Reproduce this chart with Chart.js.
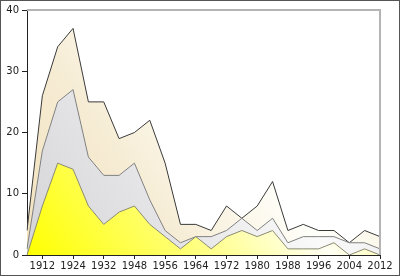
<!DOCTYPE html>
<html lang="en">
<head>
    <meta charset="UTF-8">
    <title>Medals</title>
    <script src="https://cdn.jsdelivr.net/npm/chart.js"></script>
    <style>
        body {
            margin: 0;
            padding: 0;
            background: white;
        }
        .wrap {
            position: relative;
            width: 400px;
            height: 276px;
        }
        .frame {
            position: absolute;
            left: 0;
            top: 0;
            width: 400px;
            height: 276px;
            box-sizing: border-box;
            border: 1px solid #555;
            pointer-events: none;
        }
    </style>
</head>
<body>
    <div class="wrap">
        <canvas id="medalChart" width="400" height="276"></canvas>
        <div class="frame"></div>
    </div>

    <script>
        const years = ['1908', '1912', '1920', '1924', '1928', '1932', '1936', '1948', '1952', '1956', '1960', '1964',
                       '1968', '1972', '1976', '1980', '1984', '1988', '1992', '1996', '2000', '2004', '2008', '2012'];
        const gold   = [0, 8, 15, 14, 8, 5, 7, 8, 5, 3, 1, 3, 1, 3, 4, 3, 4, 1, 1, 1, 2, 0, 1, 0];
        const silver = [1, 9, 10, 13, 8, 8, 6, 7, 4, 1, 1, 0, 2, 1, 2, 1, 2, 1, 2, 2, 1, 2, 1, 1];
        const bronze = [3, 9, 9, 10, 9, 12, 6, 5, 13, 11, 3, 2, 1, 4, 0, 4, 6, 2, 2, 1, 1, 0, 2, 2];
        const yTicks = [0, 10, 20, 30, 40];

        // horizontal gradient: strong colour at both ends, almost white in the middle
        function makeFill(edge, mid, light) {
            return function (context) {
                const chart = context.chart;
                const area = chart.chartArea;
                if (!area) return edge;
                const g = chart.ctx.createLinearGradient(area.left, area.bottom, area.right, area.top);
                g.addColorStop(0, edge);
                g.addColorStop(0.3, mid);
                g.addColorStop(0.58, light);
                g.addColorStop(0.85, mid);
                g.addColorStop(1, edge);
                return g;
            };
        }

        const frameLines = {
            id: 'frameLines',
            afterDraw(chart) {
                const { ctx, chartArea } = chart;
                ctx.save();
                ctx.strokeStyle = '#b4b4b4';
                ctx.lineWidth = 2;
                ctx.beginPath();
                ctx.moveTo(chartArea.left, chartArea.top);
                ctx.lineTo(chartArea.right, chartArea.top);
                ctx.lineTo(chartArea.right, chartArea.bottom);
                ctx.stroke();
                ctx.restore();
            }
        };

        new Chart(document.getElementById('medalChart').getContext('2d'), {
            type: 'line',
            data: {
                labels: years,
                datasets: [
                    {
                        label: 'Gold',
                        data: gold,
                        borderColor: '#8a8a70',
                        borderWidth: 1,
                        backgroundColor: makeFill('#ffff00', '#ffff70', '#fffff4'),
                        fill: 'origin',
                        pointRadius: 0,
                        tension: 0
                    },
                    {
                        label: 'Silver',
                        data: silver,
                        borderColor: '#808080',
                        borderWidth: 1,
                        backgroundColor: makeFill('#d4d4d8', '#e4e4e6', '#fafafa'),
                        fill: '-1',
                        pointRadius: 0,
                        tension: 0
                    },
                    {
                        label: 'Bronze',
                        data: bronze,
                        borderColor: '#3a3a3a',
                        borderWidth: 1,
                        backgroundColor: makeFill('#f2e2bc', '#f6ecd4', '#fffffa'),
                        fill: '-1',
                        pointRadius: 0,
                        tension: 0
                    }
                ]
            },
            options: {
                responsive: false,
                animation: false,
                layout: { padding: { top: 10, right: 20, left: 0, bottom: 0 } },
                plugins: {
                    legend: { display: false },
                    tooltip: { enabled: false }
                },
                scales: {
                    x: {
                        offset: false,
                        afterFit: (scale) => { scale.height = 21; },
                        border: { color: '#222', width: 1 },
                        grid: {
                            drawOnChartArea: false,
                            tickLength: 4,
                            tickColor: (c) => (c.index % 2 === 1 ? '#222' : 'rgba(0,0,0,0)')
                        },
                        ticks: {
                            autoSkip: false,
                            maxRotation: 0,
                            padding: 1,
                            color: '#222',
                            font: { family: 'DejaVu Sans', size: 10 },
                            callback: (v, i) => (i % 2 === 1 ? years[i] : '')
                        }
                    },
                    y: {
                        stacked: true,
                        min: yTicks[0],
                        max: yTicks[yTicks.length - 1],
                        afterFit: (scale) => { scale.width = 27; },
                        afterBuildTicks: (scale) => { scale.ticks = yTicks.map(v => ({ value: v })); },
                        border: { color: '#222', width: 1 },
                        grid: {
                            drawOnChartArea: false,
                            tickLength: 5,
                            tickColor: '#222'
                        },
                        ticks: {
                            padding: 3,
                            color: '#222',
                            font: { family: 'DejaVu Sans', size: 10 }
                        }
                    }
                }
            },
            plugins: [frameLines]
        });
    </script>
</body>
</html>
